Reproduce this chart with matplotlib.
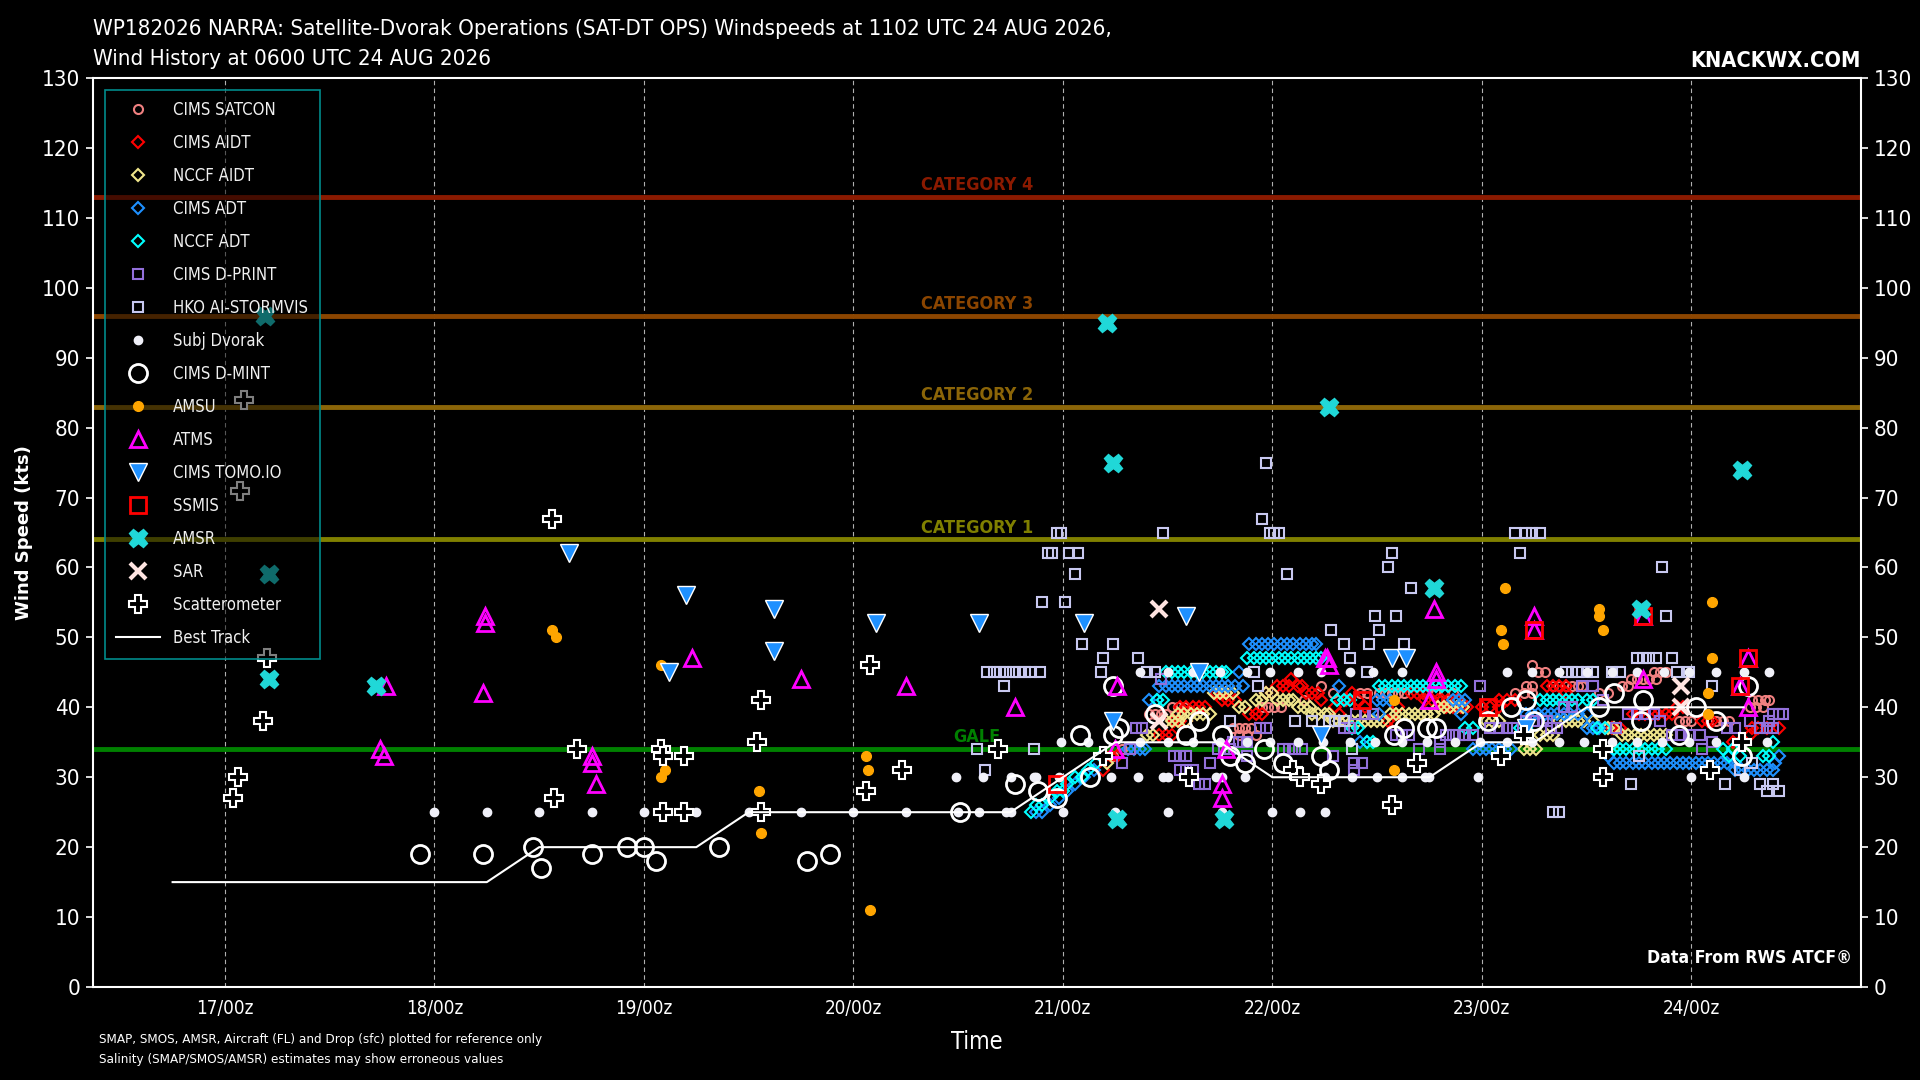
import matplotlib

matplotlib.use("Agg")
import matplotlib.pyplot as plt

plt.rcParams['font.family'] = ['DejaVu Sans']
plt.rcParams['font.stretch'] = 'condensed'

# ---- data (day of Aug 2026, knots) ----
best_track = [
    (16.75, 15), (17.00, 15), (17.25, 15), (17.50, 15), (17.75, 15), (18.00, 15),
    (18.25, 15), (18.50, 20), (18.75, 20), (19.00, 20), (19.25, 20), (19.50, 25),
    (19.75, 25), (20.00, 25), (20.25, 25), (20.50, 25), (20.75, 25), (21.00, 30),
    (21.25, 35), (21.50, 35), (21.75, 35), (22.00, 30), (22.25, 30), (22.50, 30),
    (22.75, 30), (23.00, 35), (23.25, 35), (23.50, 40), (23.75, 40), (24.00, 40),
    (24.25, 40),
]

cims_satcon = [
    (21.41, 39), (21.44, 39), (21.47, 39), (21.49, 39), (21.52, 40), (21.55, 40),
    (21.58, 40), (21.81, 37), (21.84, 37), (21.87, 37), (21.90, 37), (21.84, 36),
    (21.88, 36), (21.92, 36), (21.95, 40), (21.98, 40), (22.01, 40), (22.04, 40),
    (22.15, 41), (22.23, 43), (22.29, 42), (22.42, 42), (22.45, 42), (22.51, 42),
    (22.54, 42), (22.57, 42), (22.60, 42), (22.63, 42), (22.74, 42), (22.78, 42),
    (22.82, 42), (22.86, 42), (23.24, 46), (23.27, 45), (23.30, 45), (23.21, 43),
    (23.24, 43), (23.34, 43), (23.37, 43), (23.40, 43), (23.43, 43), (23.46, 43),
    (23.48, 43), (23.16, 42), (23.20, 42), (23.24, 42), (23.56, 42), (23.60, 42),
    (23.67, 43), (23.70, 43), (23.71, 44), (23.74, 44), (23.77, 44), (23.80, 44),
    (23.83, 44), (23.82, 45), (23.85, 45), (23.88, 45), (23.94, 38), (23.97, 38),
    (24.00, 38), (24.12, 38), (24.15, 38), (24.18, 38), (24.29, 41), (24.32, 41),
    (24.35, 41), (24.37, 41), (24.28, 40), (24.31, 40), (24.34, 40), (21.24, 33),
    (21.28, 34),
]

cims_aidt = [
    (21.18, 33), (21.20, 33), (21.23, 33), (21.26, 33), (21.19, 31), (21.46, 36),
    (21.49, 36), (21.52, 36), (21.53, 38), (21.56, 38), (21.59, 38), (21.56, 40),
    (21.59, 40), (21.62, 40), (21.65, 40), (21.68, 40), (21.73, 42), (21.76, 42),
    (21.78, 42), (21.76, 41), (21.79, 41), (21.82, 41), (21.89, 39), (21.92, 39),
    (21.95, 39), (21.97, 42), (22.00, 42), (22.02, 43), (22.05, 43), (22.08, 43),
    (22.09, 44), (22.12, 43), (22.14, 43), (22.16, 42), (22.19, 42), (22.22, 42),
    (22.23, 41), (22.30, 40), (22.32, 39), (22.35, 41), (22.38, 42), (22.41, 41),
    (22.44, 40), (22.55, 38), (22.58, 38), (22.60, 40), (22.66, 42), (22.69, 42),
    (22.72, 42), (22.73, 41), (22.76, 41), (22.79, 41), (22.81, 41), (22.84, 41),
    (22.88, 41), (22.83, 40), (22.86, 40), (22.90, 40), (22.93, 40), (23.00, 40),
    (23.04, 40), (23.08, 40), (23.08, 41), (23.12, 41), (23.16, 41), (23.31, 43),
    (23.34, 43), (23.37, 43), (23.40, 43), (23.40, 42), (23.59, 37), (23.62, 37),
    (23.66, 37), (23.72, 39), (23.75, 39), (23.78, 39), (23.81, 39), (23.84, 39),
    (23.88, 39), (23.91, 39), (23.93, 40), (23.96, 40), (24.05, 38), (24.08, 38),
    (24.10, 38), (24.20, 35), (24.23, 35), (24.28, 36), (24.29, 37), (24.32, 37),
    (24.36, 37), (24.42, 37),
]

nccf_aidt = [
    (21.21, 32), (21.40, 36), (21.43, 36), (21.49, 38), (21.52, 38), (21.55, 38),
    (21.59, 38), (21.55, 39), (21.58, 39), (21.61, 39), (21.64, 39), (21.67, 39),
    (21.70, 39), (21.72, 42), (21.75, 42), (21.78, 42), (21.81, 42), (21.84, 40),
    (21.87, 40), (21.92, 41), (21.95, 41), (21.97, 42), (22.00, 42), (22.02, 41),
    (22.05, 41), (22.08, 41), (22.10, 41), (22.12, 40), (22.15, 40), (22.18, 40),
    (22.19, 39), (22.22, 39), (22.25, 39), (22.27, 39), (22.29, 38), (22.32, 38),
    (22.35, 38), (22.38, 38), (22.41, 38), (22.44, 38), (22.47, 38), (22.50, 38),
    (22.53, 38), (22.56, 39), (22.59, 39), (22.62, 39), (22.65, 39), (22.68, 39),
    (22.71, 39), (22.74, 39), (22.77, 39), (22.79, 40), (22.82, 40), (22.85, 40),
    (22.88, 40), (22.91, 40), (23.02, 38), (23.05, 38), (23.08, 38), (23.20, 34),
    (23.23, 34), (23.26, 34), (23.28, 36), (23.31, 36), (23.34, 36), (23.37, 38),
    (23.40, 38), (23.43, 38), (23.46, 38), (23.49, 38), (23.53, 38), (23.60, 37),
    (23.63, 37), (23.67, 36), (23.70, 36), (23.73, 36), (23.76, 36), (23.79, 36),
    (23.82, 36), (23.85, 36), (23.88, 36),
]

cims_adt = [
    (20.87, 25), (20.90, 25), (20.94, 26), (20.98, 27), (21.02, 28), (21.06, 29),
    (21.10, 30), (21.15, 31), (21.31, 34), (21.34, 34), (21.37, 34), (21.39, 34),
    (21.41, 41), (21.45, 41), (21.46, 43), (21.49, 43), (21.52, 43), (21.55, 43),
    (21.58, 43), (21.61, 43), (21.64, 43), (21.67, 43), (21.70, 43), (21.73, 43),
    (21.76, 43), (21.79, 43), (21.82, 43), (21.86, 43), (21.84, 45), (21.89, 49),
    (21.92, 49), (21.95, 49), (21.98, 49), (22.01, 49), (22.04, 49), (22.07, 49),
    (22.10, 49), (22.13, 49), (22.16, 49), (22.19, 49), (22.21, 49), (22.32, 43),
    (22.42, 35), (22.45, 35), (22.50, 41), (22.53, 41), (22.56, 41), (22.51, 39),
    (22.86, 41), (22.89, 41), (22.92, 41), (22.90, 39), (22.96, 34), (22.99, 34),
    (23.02, 34), (23.05, 34), (23.08, 34), (23.11, 34), (23.14, 34), (23.21, 39),
    (23.24, 39), (23.27, 39), (23.30, 39), (23.33, 39), (23.36, 39), (23.39, 39),
    (23.42, 39), (23.46, 39), (23.50, 39), (23.50, 37), (23.53, 37), (23.56, 37),
    (23.60, 33), (23.63, 32), (23.66, 32), (23.69, 32), (23.72, 32), (23.75, 32),
    (23.78, 32), (23.81, 32), (23.84, 32), (23.87, 32), (23.90, 32), (23.93, 32),
    (23.96, 32), (23.99, 32), (24.02, 32), (24.05, 32), (24.08, 32), (24.11, 32),
    (24.14, 32), (24.17, 32), (24.21, 32), (24.21, 31), (24.24, 31), (24.27, 31),
    (24.30, 31), (24.33, 31), (24.36, 31), (24.39, 31), (24.40, 32), (24.42, 33),
]

nccf_adt = [
    (20.85, 25), (20.87, 26), (20.90, 26), (20.94, 27), (20.97, 28), (21.00, 28),
    (21.02, 29), (21.06, 30), (21.09, 30), (21.12, 31), (21.16, 32), (21.18, 33),
    (21.45, 41), (21.48, 41), (21.49, 45), (21.52, 45), (21.55, 45), (21.58, 45),
    (21.61, 45), (21.64, 45), (21.67, 45), (21.70, 45), (21.73, 45), (21.76, 45),
    (21.78, 45), (21.88, 47), (21.91, 47), (21.94, 47), (21.97, 47), (22.00, 47),
    (22.03, 47), (22.06, 47), (22.09, 47), (22.12, 47), (22.15, 47), (22.18, 47),
    (22.21, 47), (22.23, 47), (22.31, 41), (22.34, 41), (22.37, 41), (22.38, 37),
    (22.41, 37), (22.45, 35), (22.48, 35), (22.51, 43), (22.54, 43), (22.57, 43),
    (22.60, 43), (22.63, 43), (22.66, 43), (22.69, 43), (22.72, 43), (22.75, 43),
    (22.78, 43), (22.81, 43), (22.84, 43), (22.87, 43), (22.90, 43), (22.92, 37),
    (22.96, 37), (23.18, 37), (23.21, 37), (23.28, 41), (23.31, 41), (23.34, 41),
    (23.37, 41), (23.40, 41), (23.43, 41), (23.46, 41), (23.50, 41), (23.53, 41),
    (23.55, 37), (23.59, 37), (23.63, 34), (23.66, 34), (23.69, 34), (23.72, 34),
    (23.75, 34), (23.78, 34), (23.81, 34), (23.84, 34), (23.88, 34), (24.15, 34),
    (24.20, 34), (24.18, 33), (24.23, 33), (24.34, 33), (24.37, 33), (24.39, 35),
]

cims_dprint = [
    (21.28, 32), (21.32, 34), (21.35, 37), (21.38, 37), (21.47, 44), (21.53, 33),
    (21.56, 33), (21.59, 33), (21.56, 31), (21.59, 31), (21.62, 31), (21.65, 29),
    (21.68, 29), (21.70, 32), (21.74, 34), (21.77, 34), (21.80, 34), (21.81, 35),
    (21.84, 35), (21.88, 35), (21.88, 33), (21.94, 37), (21.97, 37), (22.05, 34),
    (22.08, 34), (22.11, 34), (22.14, 34), (22.29, 33), (22.39, 32), (22.43, 32),
    (22.39, 31), (22.34, 37), (22.37, 37), (22.40, 39), (22.44, 39), (22.48, 39),
    (22.59, 36), (22.62, 36), (22.65, 36), (22.70, 34), (22.80, 34), (22.80, 35),
    (22.83, 36), (22.86, 36), (22.89, 36), (22.92, 36), (22.96, 36), (22.99, 43),
    (23.04, 37), (23.08, 37), (23.12, 37), (23.15, 37), (23.21, 38), (23.25, 38),
    (23.29, 38), (23.31, 38), (23.33, 37), (23.36, 37), (23.39, 40), (23.43, 40),
    (23.48, 43), (23.53, 43), (23.58, 41), (23.64, 37), (23.70, 39), (23.74, 39),
    (23.78, 39), (23.82, 39), (23.85, 38), (23.91, 36), (23.95, 36), (23.99, 36),
    (24.04, 36), (24.05, 34), (24.10, 35), (24.17, 37), (24.21, 37), (24.28, 38),
    (24.33, 37), (24.36, 37), (24.39, 37), (24.39, 39), (24.42, 39), (24.44, 39),
    (24.37, 38),
]

hko_stormvis = [
    (20.59, 34), (20.63, 31), (20.64, 45), (20.67, 45), (20.70, 45), (20.73, 45),
    (20.76, 45), (20.79, 45), (20.82, 45), (20.85, 45), (20.89, 45), (20.72, 43),
    (20.86, 34), (20.90, 55), (20.93, 62), (20.95, 62), (20.97, 65), (20.99, 65),
    (21.01, 55), (21.03, 62), (21.06, 59), (21.07, 62), (21.09, 49), (21.18, 45),
    (21.19, 47), (21.24, 49), (21.36, 47), (21.40, 45), (21.44, 45), (21.48, 65),
    (21.91, 45), (21.93, 43), (21.95, 67), (21.97, 75), (21.99, 65), (22.01, 65),
    (22.03, 65), (22.07, 59), (22.28, 51), (22.34, 49), (22.37, 47), (22.45, 45),
    (22.46, 49), (22.49, 53), (22.51, 51), (22.59, 53), (22.55, 60), (22.57, 62),
    (22.63, 49), (22.66, 57), (21.80, 38), (22.11, 38), (22.19, 38), (22.27, 38),
    (22.30, 38), (22.34, 38), (22.38, 34), (23.16, 65), (23.21, 65), (23.24, 65),
    (23.28, 65), (23.18, 62), (23.86, 60), (23.88, 53), (23.74, 47), (23.77, 47),
    (23.80, 47), (23.83, 47), (23.91, 47), (23.40, 45), (23.43, 45), (23.46, 45),
    (23.50, 45), (23.53, 45), (23.62, 45), (23.66, 45), (23.93, 45), (23.99, 45),
    (24.10, 43), (23.71, 29), (23.34, 25), (23.37, 25), (23.75, 33), (24.16, 29),
    (24.33, 29), (24.36, 28), (24.42, 28), (24.39, 29), (24.23, 31), (24.29, 32),
]

subj_dvorak = [
    (18.00, 25), (18.25, 25), (18.50, 25), (18.75, 25), (19.00, 25), (19.25, 25),
    (19.50, 25), (19.75, 25), (20.00, 25), (20.25, 25), (20.50, 25), (20.60, 25),
    (20.73, 25), (20.75, 25), (20.49, 30), (20.62, 30), (20.75, 30), (20.86, 30),
    (20.87, 30), (20.98, 30), (21.00, 25), (21.25, 25), (21.50, 25), (21.76, 25),
    (22.00, 25), (22.13, 25), (22.25, 25), (21.23, 30), (21.36, 30), (21.48, 30),
    (21.50, 30), (21.73, 30), (21.76, 30), (21.87, 30), (22.13, 30), (22.25, 30),
    (22.38, 30), (22.50, 30), (22.62, 30), (22.73, 30), (22.75, 30), (22.98, 30),
    (24.00, 30), (24.25, 30), (20.99, 35), (21.12, 35), (21.37, 35), (21.50, 35),
    (21.62, 35), (21.75, 35), (21.88, 35), (21.99, 35), (22.12, 35), (22.24, 35),
    (22.37, 35), (22.49, 35), (22.62, 35), (22.74, 35), (22.87, 35), (22.99, 35),
    (23.12, 35), (23.24, 35), (23.37, 35), (23.49, 35), (23.62, 35), (23.74, 35),
    (23.86, 35), (23.99, 35), (24.12, 35), (24.25, 35), (24.36, 35), (21.37, 45),
    (21.50, 45), (21.62, 45), (21.75, 45), (21.88, 45), (21.99, 45), (22.12, 45),
    (22.23, 45), (22.37, 45), (22.48, 45), (22.62, 45), (23.12, 45), (23.24, 45),
    (23.37, 45), (23.50, 45), (23.62, 45), (23.74, 45), (23.87, 45), (23.99, 45),
    (24.12, 45), (24.25, 45), (24.37, 45),
]

cims_dmint = [
    (17.93, 19), (18.23, 19), (18.47, 20), (18.51, 17), (18.75, 19), (18.92, 20),
    (19.00, 20), (19.06, 18), (19.36, 20), (19.78, 18), (19.89, 19), (20.51, 25),
    (20.77, 29), (20.88, 28), (20.97, 27), (21.08, 36), (21.13, 30), (21.24, 43),
    (21.27, 37), (21.24, 36), (21.44, 39), (21.65, 38), (21.59, 36), (21.76, 36),
    (21.80, 33), (21.87, 32), (21.96, 34), (22.05, 32), (22.23, 33), (22.27, 31),
    (22.58, 36), (22.63, 37), (22.74, 37), (22.78, 37), (23.03, 38), (23.14, 40),
    (23.21, 41), (23.25, 38), (23.56, 40), (23.63, 42), (23.76, 38), (23.77, 41),
    (23.94, 36), (24.02, 40), (24.12, 38), (24.24, 33), (24.27, 43),
]

amsu = [
    (18.56, 51), (18.58, 50), (19.08, 46), (19.10, 31), (19.08, 30), (19.55, 28),
    (19.56, 22), (20.06, 33), (20.07, 31), (20.08, 11), (22.58, 41), (22.58, 31),
    (23.11, 57), (23.09, 51), (23.10, 49), (23.56, 54), (23.56, 53), (23.58, 51),
    (24.10, 55), (24.10, 47), (24.08, 42), (24.08, 39),
]

atms = [
    (17.74, 34), (17.76, 33), (17.77, 43), (18.23, 42), (18.24, 52), (18.24, 53),
    (18.75, 32), (18.75, 33), (18.77, 29), (19.23, 47), (19.75, 44), (20.25, 43),
    (20.77, 40), (21.25, 34), (21.26, 43), (21.76, 27), (21.76, 29), (21.78, 34),
    (22.25, 47), (22.26, 47), (22.27, 46), (22.75, 41), (22.77, 54), (22.78, 44),
    (22.78, 45), (23.25, 51), (23.25, 53), (23.77, 44), (23.77, 53), (24.23, 43),
    (24.27, 40), (24.27, 47),
]

cims_tomo = [
    (18.64, 62), (19.12, 45), (19.20, 56), (19.62, 48), (19.62, 54), (20.11, 52),
    (20.60, 52), (21.10, 52), (21.24, 38), (21.59, 53), (21.65, 45), (22.23, 36),
    (22.57, 47), (22.64, 47), (23.21, 37),
]

ssmis = [(20.97, 29), (22.43, 41), (23.03, 40), (23.25, 51), (23.77, 53), (24.23, 43), (24.27, 47)]

amsr = [
    (17.19, 96), (17.21, 59), (17.21, 44), (17.72, 43), (21.21, 95), (21.24, 75),
    (21.26, 24), (21.77, 24), (22.27, 83), (22.77, 57), (23.76, 54), (24.24, 74),
]

sar = [(21.46, 54), (21.46, 38), (23.95, 43), (23.95, 40)]

scatterometer = [
    (17.04, 27), (17.06, 30), (17.07, 71), (17.09, 84), (17.18, 38), (17.20, 47),
    (18.56, 67), (18.57, 27), (18.68, 34), (19.08, 34), (19.09, 33), (19.09, 25),
    (19.19, 33), (19.19, 25), (19.54, 35), (19.56, 41), (19.56, 25), (20.06, 28),
    (20.08, 46), (20.23, 31), (20.69, 34), (21.19, 33), (21.60, 30), (22.10, 31),
    (22.13, 30), (22.23, 29), (22.57, 26), (22.69, 32), (23.09, 33), (23.20, 36),
    (23.58, 34), (23.58, 30), (24.09, 31), (24.24, 35),
]

# threshold lines: (label, knots, colour)
thresholds = [
    ("CATEGORY 4", 113, "#8B1A00"),
    ("CATEGORY 3", 96, "#8B4500"),
    ("CATEGORY 2", 83, "#8B6508"),
    ("CATEGORY 1", 64, "#808000"),
    ("GALE", 34, "#008000"),
]

day_ticks = [17, 18, 19, 20, 21, 22, 23, 24]
day_labels = ["17/00z", "18/00z", "19/00z", "20/00z", "21/00z", "22/00z", "23/00z", "24/00z"]


def plot_series(ax, data, label, **kw):
    t = [p[0] for p in data]
    v = [p[1] for p in data]
    ax.plot(t, v, linestyle="none", label=label, **kw)


fig = plt.figure(figsize=(19.2, 10.8), dpi=100, facecolor="black")
ax = fig.add_axes([93 / 1920, 93 / 1080, 1768 / 1920, 909 / 1080])
ax.set_facecolor("black")

for label, kt, col in thresholds:
    ax.axhline(kt, color=col, linewidth=3.5, zorder=1)
    ax.text(0.5, kt + 0.4, label, transform=ax.get_yaxis_transform(), ha="center",
            va="bottom", color=col, fontsize=13, fontweight="bold", zorder=1)

hollow = dict(markerfacecolor="none")
plot_series(ax, cims_satcon, "CIMS SATCON", marker="o", ms=6.5, mec="#F08080", mew=1.5, **hollow)
plot_series(ax, cims_aidt, "CIMS AIDT", marker="D", ms=6.5, mec="#FF0000", mew=1.5, **hollow)
plot_series(ax, nccf_aidt, "NCCF AIDT", marker="D", ms=6.5, mec="#F0E68C", mew=1.5, **hollow)
plot_series(ax, cims_adt, "CIMS ADT", marker="D", ms=6.5, mec="#1E90FF", mew=1.5, **hollow)
plot_series(ax, nccf_adt, "NCCF ADT", marker="D", ms=6.5, mec="#00FFFF", mew=1.5, **hollow)
plot_series(ax, cims_dprint, "CIMS D-PRINT", marker="s", ms=6.5, mec="#9370DB", mew=1.5, **hollow)
plot_series(ax, hko_stormvis, "HKO AI-STORMVIS", marker="s", ms=6.5, mec="#C8C8F0", mew=1.5, **hollow)
plot_series(ax, subj_dvorak, "Subj Dvorak", marker="o", ms=6, color="#F0F0F8", mec="#F0F0F8")
plot_series(ax, cims_dmint, "CIMS D-MINT", marker="o", ms=13, mec="white", mew=2, **hollow)
plot_series(ax, amsu, "AMSU", marker="o", ms=7, color="#FFA500", mec="#FFA500")
plot_series(ax, atms, "ATMS", marker="^", ms=12, mec="#FF00FF", mew=2, **hollow)
plot_series(ax, cims_tomo, "CIMS TOMO.IO", marker="v", ms=13, color="#1E90FF", mec="white", mew=1)
plot_series(ax, ssmis, "SSMIS", marker="s", ms=12, mec="#FF0000", mew=2, **hollow)
plot_series(ax, amsr, "AMSR", marker="X", ms=13, color="#20D8D8", mec="#20D8D8")
plot_series(ax, sar, "SAR", marker="x", ms=12, mec="#FFE4E1", mew=3)
plot_series(ax, scatterometer, "Scatterometer", marker="P", ms=13, color="black", mec="white", mew=1.5)

ax.plot([p[0] for p in best_track], [p[1] for p in best_track], color="white",
        linewidth=1.5, label="Best Track", zorder=3)

ax.set_xlim(16.37, 24.81)
ax.set_ylim(0, 130)
ax.set_yticks(range(0, 131, 10))
ax.set_xticks(day_ticks)
ax.set_xticklabels(day_labels)
ax.tick_params(axis="y", left=True, right=True, labelleft=True, labelright=True,
               colors="white", labelsize=16, length=5, width=1.2, pad=4)
ax.tick_params(axis="x", colors="white", labelsize=13.5, length=0, pad=9)
ax.xaxis.grid(True, color="#B0B0B0", linestyle=(0, (4, 3)), linewidth=0.8)
ax.set_axisbelow(True)
for sp in ax.spines.values():
    sp.set_color("white")
    sp.set_linewidth(1.5)

ax.set_xlabel("Time", color="white", fontsize=17, labelpad=8)
fig.text(24 / 1920, 0.5 + (1080 - 987 - 78) / 2160, "Wind Speed (kts)", rotation=90,
         ha="center", va="center", color="white", fontsize=13, fontweight="bold",
         fontstretch="normal")

leg = ax.legend(loc="upper left", fontsize=12, labelspacing=0.9, handlelength=2.6,
                handletextpad=0.8, borderaxespad=0.7, borderpad=0.7, fancybox=False,
                labelcolor="#F0F0F0")
frame = leg.get_frame()
frame.set_alpha(None)
frame.set_facecolor((0, 0, 0, 0.5))
frame.set_edgecolor("#008B8B")
frame.set_linewidth(1.2)

fig.text(93 / 1920, 1 - 29 / 1080,
         "WP182026 NARRA: Satellite-Dvorak Operations (SAT-DT OPS) Windspeeds at 1102 UTC 24 AUG 2026,",
         color="white", fontsize=16, ha="left", va="center")
fig.text(93 / 1920, 1 - 59 / 1080, "Wind History at 0600 UTC 24 AUG 2026",
         color="white", fontsize=16, ha="left", va="center")
fig.text(1861 / 1920, 1 - 61 / 1080, "KNACKWX.COM", color="white", fontsize=15.7,
         fontweight="bold", ha="right", va="center")
ax.text(0.995, 0.022, "Data From RWS ATCF\u00ae", transform=ax.transAxes, color="white",
        fontsize=12.7, fontweight="bold", ha="right", va="bottom")
fig.text(99 / 1920, 1 - 1039 / 1080,
         "SMAP, SMOS, AMSR, Aircraft (FL) and Drop (sfc) plotted for reference only",
         color="white", fontsize=9.6, ha="left", va="center")
fig.text(99 / 1920, 1 - 1059 / 1080,
         "Salinity (SMAP/SMOS/AMSR) estimates may show erroneous values",
         color="white", fontsize=9.6, ha="left", va="center")

fig.savefig("out.png", dpi=100, facecolor="black")
